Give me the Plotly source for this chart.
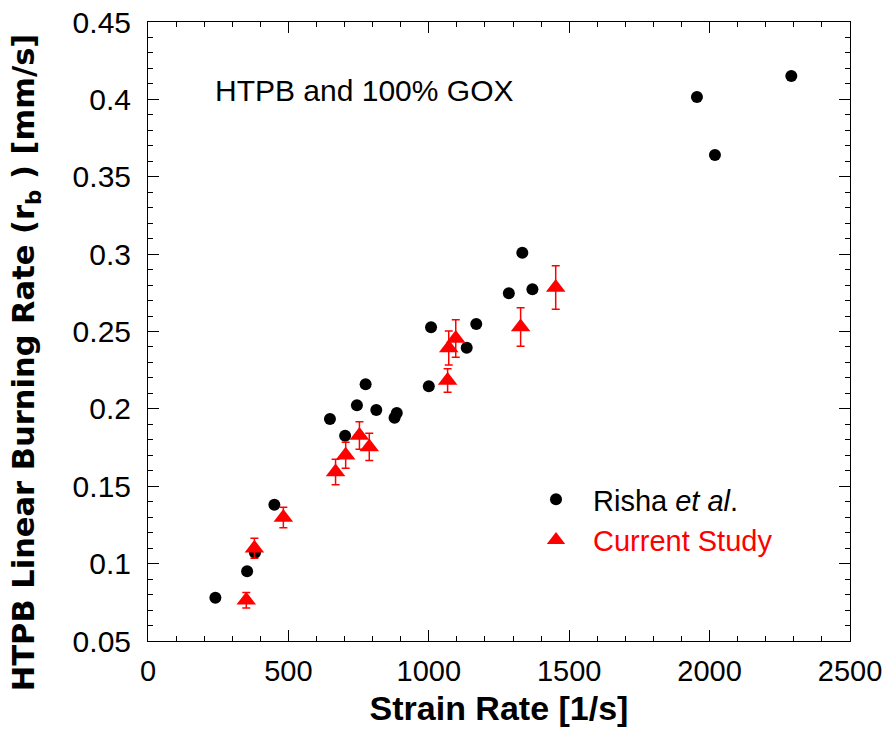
import plotly.graph_objects as go

# Risha et al. data
risha_x = [240, 353, 381, 450, 648, 702, 744, 775, 813, 878, 886, 1000, 1008,
           1135, 1169, 1285, 1333, 1369, 1955, 2019, 2291]
risha_y = [0.078, 0.095, 0.107, 0.138, 0.1935, 0.1827, 0.2023, 0.2159, 0.1993,
           0.1943, 0.1973, 0.2146, 0.2527, 0.2395, 0.2548, 0.2747, 0.3009,
           0.2773, 0.4015, 0.364, 0.4151]

# Current Study data
cur_x = [350, 379, 482, 668, 704, 753, 788, 1067, 1071, 1096, 1327, 1452]
cur_y = [0.0763, 0.1099, 0.1298, 0.1592, 0.170, 0.1828, 0.1754, 0.2183,
         0.2393, 0.2455, 0.2529, 0.2784]
cur_err = [0.005, 0.0065, 0.0066, 0.0082, 0.0084, 0.0089, 0.0088, 0.0076,
           0.011, 0.0121, 0.0125, 0.0141]

x_ticks = [0, 500, 1000, 1500, 2000, 2500]
y_ticks = [0.05, 0.1, 0.15, 0.2, 0.25, 0.3, 0.35, 0.4, 0.45]

fig = go.Figure()
fig.add_trace(go.Scatter(
    x=risha_x, y=risha_y, mode="markers",
    name="Risha <i>et al</i>.",
    legendgroup="a",
    marker=dict(symbol="circle", size=12, color="black"),
))
fig.add_trace(go.Scatter(
    x=cur_x, y=cur_y, mode="markers",
    name='<span style="color:red">Current Study</span>',
    legendgroup="b",
    marker=dict(symbol="triangle-up", size=17, color="red"),
    error_y=dict(type="data", array=cur_err, visible=True,
                 color="red", thickness=1.5, width=4),
))

fig.add_annotation(
    x=231, y=0.406, xref="x", yref="y", xanchor="left", yanchor="middle",
    text="HTPB and 100% GOX", showarrow=False,
    font=dict(family="Liberation Sans, Arial", size=30, color="black"),
)

# y-axis title placed as a rotated annotation
fig.add_annotation(
    x=-0.174, y=0.45, xref="paper", yref="paper",
    xanchor="center", yanchor="middle", textangle=-90,
    text="<b>HTPB Linear Burning Rate (r<sub>b</sub> ) [mm/s]</b>",
    showarrow=False,
    font=dict(family="DejaVu Sans", size=30.5, color="black"),
)

axis_common = dict(
    showline=True, linecolor="black", linewidth=1, mirror="allticks",
    ticks="inside", ticklen=11, tickwidth=1, tickcolor="black",
    showgrid=False, zeroline=False, automargin=False,
)

fig.update_xaxes(
    range=[0, 2500], tickvals=x_ticks, ticklabelstandoff=4,
    tickfont=dict(family="Liberation Sans, Arial", size=29, color="black"),
    minor=dict(dtick=100, ticks="inside", ticklen=5, tickwidth=1, tickcolor="black", showgrid=False),
    title=dict(text="<b>Strain Rate [1/s]</b>",
               font=dict(family="Liberation Sans, Arial", size=34, color="black"),
               standoff=10),
    **axis_common,
)
fig.update_yaxes(
    range=[0.05, 0.45], tickvals=y_ticks, ticklabelstandoff=10,
    tickfont=dict(family="Liberation Sans, Arial", size=30, color="black"),
    minor=dict(dtick=0.01, tick0=0.05, ticks="inside", ticklen=5, tickwidth=1, tickcolor="black", showgrid=False),
    **axis_common,
)

fig.update_layout(
    width=883, height=730,
    margin=dict(l=148, r=33, t=22, b=89),
    paper_bgcolor="white", plot_bgcolor="white",
    showlegend=True,
    legend=dict(
        x=0.5285, y=0.27, xanchor="left", yanchor="top",
        font=dict(family="Liberation Sans, Arial", size=29, color="black"),
        bgcolor="rgba(0,0,0,0)", itemwidth=64, tracegroupgap=0,
    ),
)

fig.write_html("out.html")
